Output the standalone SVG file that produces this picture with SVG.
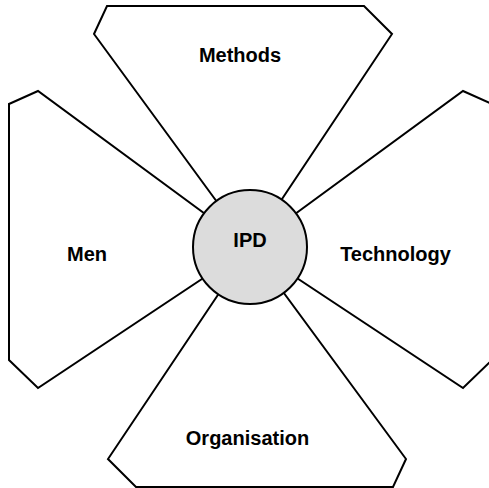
<svg xmlns="http://www.w3.org/2000/svg" width="489" height="488" viewBox="0 0 489 488">
<style>
.sh{fill:#ffffff;stroke:#000000;stroke-width:2;stroke-linejoin:miter}
.hub{fill:#dcdcdc;stroke:#000000;stroke-width:2}
.lb{font-family:"Liberation Sans",Arial,sans-serif;font-weight:bold;font-size:20px;fill:#000000;text-anchor:middle}
</style>
<rect width="489" height="488" fill="#ffffff"/>
<g id="methods">
<polygon class="sh" points="250,247 94,34 107,6 364,6 392,34"/>
<text class="lb" x="240" y="62">Methods</text>
</g>
<g id="men">
<polygon class="sh" points="250,247 38,91 9,104 9,360 38,388"/>
<text class="lb" x="87" y="261">Men</text>
</g>
<g id="technology">
<polygon class="sh" points="250,247 463,91 492,104 492,360 463,388"/>
<text class="lb" x="395.5" y="261">Technology</text>
</g>
<g id="organisation">
<polygon class="sh" points="250,247 108,459 136,487 393,487 406,459"/>
<text class="lb" x="247.5" y="445">Organisation</text>
</g>
<g id="ipd">
<circle class="hub" cx="250" cy="247" r="57"/>
<text class="lb" x="250" y="247">IPD</text>
</g>
</svg>
